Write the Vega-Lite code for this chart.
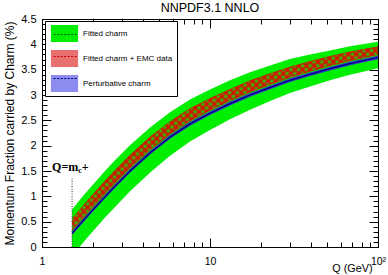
{
"$schema": "https://vega.github.io/schema/vega-lite/v6.json",
"width": 336, "height": 228,
"autosize": "none",
"padding": {"left": 42, "top": 19, "right": 10, "bottom": 28},
"background": "white",
"config": {"view": {"stroke": "black", "strokeWidth": 1}, "font": "Liberation Sans",
  "axis": {"domainColor": "black", "tickColor": "black", "labelColor": "black", "titleColor": "black", "grid": false, "labelFont": "Liberation Sans", "titleFont": "Liberation Sans", "titleFontWeight": "normal"}},
"title": {"text": "NNPDF3.1 NNLO", "fontSize": 12.5, "font": "Liberation Sans", "fontWeight": "normal", "color": "black", "offset": -1, "anchor": "middle"},
"datasets": {
 "bands": [
  {"Q":1.51,"b":0.27,"b_lo":0.235,"b_hi":0.305,"r_lo":0.33,"r_hi":0.55,"g_lo":-0.18,"g_hi":0.74},
  {"Q":1.8,"b":0.56,"b_lo":0.525,"b_hi":0.595,"r_lo":0.62,"r_hi":0.85,"g_lo":0.13,"g_hi":1.05},
  {"Q":2.07,"b":0.78,"b_lo":0.745,"b_hi":0.815,"r_lo":0.84,"r_hi":1.08,"g_lo":0.36,"g_hi":1.28},
  {"Q":2.37,"b":0.99,"b_lo":0.955,"b_hi":1.025,"r_lo":1.05,"r_hi":1.30,"g_lo":0.58,"g_hi":1.50},
  {"Q":2.72,"b":1.20,"b_lo":1.165,"b_hi":1.235,"r_lo":1.26,"r_hi":1.51,"g_lo":0.79,"g_hi":1.71},
  {"Q":3.34,"b":1.50,"b_lo":1.465,"b_hi":1.535,"r_lo":1.56,"r_hi":1.81,"g_lo":1.10,"g_hi":2.01},
  {"Q":4.4,"b":1.86,"b_lo":1.825,"b_hi":1.895,"r_lo":1.92,"r_hi":2.17,"g_lo":1.47,"g_hi":2.36},
  {"Q":5.78,"b":2.17,"b_lo":2.135,"b_hi":2.205,"r_lo":2.23,"r_hi":2.47,"g_lo":1.80,"g_hi":2.66},
  {"Q":7.6,"b":2.43,"b_lo":2.395,"b_hi":2.465,"r_lo":2.49,"r_hi":2.73,"g_lo":2.08,"g_hi":2.91},
  {"Q":10,"b":2.64,"b_lo":2.605,"b_hi":2.675,"r_lo":2.70,"r_hi":2.93,"g_lo":2.31,"g_hi":3.11},
  {"Q":13.15,"b":2.83,"b_lo":2.795,"b_hi":2.865,"r_lo":2.89,"r_hi":3.11,"g_lo":2.52,"g_hi":3.29},
  {"Q":17.3,"b":3.00,"b_lo":2.965,"b_hi":3.035,"r_lo":3.06,"r_hi":3.28,"g_lo":2.71,"g_hi":3.45},
  {"Q":22.8,"b":3.15,"b_lo":3.115,"b_hi":3.185,"r_lo":3.21,"r_hi":3.42,"g_lo":2.88,"g_hi":3.58},
  {"Q":29.9,"b":3.29,"b_lo":3.255,"b_hi":3.325,"r_lo":3.35,"r_hi":3.55,"g_lo":3.04,"g_hi":3.71},
  {"Q":39.4,"b":3.41,"b_lo":3.375,"b_hi":3.445,"r_lo":3.47,"r_hi":3.66,"g_lo":3.17,"g_hi":3.80},
  {"Q":51.8,"b":3.52,"b_lo":3.485,"b_hi":3.555,"r_lo":3.58,"r_hi":3.76,"g_lo":3.29,"g_hi":3.88},
  {"Q":68.1,"b":3.62,"b_lo":3.585,"b_hi":3.655,"r_lo":3.68,"r_hi":3.85,"g_lo":3.40,"g_hi":3.96},
  {"Q":100,"b":3.74,"b_lo":3.705,"b_hi":3.775,"r_lo":3.80,"r_hi":3.95,"g_lo":3.53,"g_hi":4.05}
 ],
 "series": [{"s":"Fitted charm"},{"s":"Fitted charm + EMC data"},{"s":"Perturbative charm"}],
 "threshold": [{"mc":1.51,"base":0,"top":1.38,"label_y":1.5}]
},
"layer": [
 {"data": {"name": "bands"},
  "mark": {"type": "area", "fill": "#00ee00", "clip": true},
  "encoding": {
   "x": {"field": "Q", "type": "quantitative", "scale": {"type": "log", "domain": [1, 100], "nice": false},
     "axis": {"orient": "bottom", "values": [1,2,3,4,5,6,7,8,9,10,20,30,40,50,60,70,80,90,100],
       "labelExpr": "datum.value == 1 ? '1' : datum.value == 10 ? '10' : datum.value == 100 ? '10²' : ''",
       "tickSize": {"condition": {"test": "indexof([1,10,100], datum.value) >= 0", "value": -9}, "value": -5},
       "labelFontSize": 10.5, "labelPadding": 18, "labelFlush": false, "labelOverlap": false,
       "title": "Q (GeV)", "titleFontSize": 10.8, "titleAnchor": "end", "titleAlign": "right", "titleX": 330, "titleY": 24, "titleBaseline": "alphabetic"}},
   "y": {"field": "g_lo", "type": "quantitative", "scale": {"domain": [0, 4.5], "nice": false, "zero": false},
     "axis": {"orient": "left", "values": [0,0.1,0.2,0.3,0.4,0.5,0.6,0.7,0.8,0.9,1,1.1,1.2,1.3,1.4,1.5,1.6,1.7,1.8,1.9,2,2.1,2.2,2.3,2.4,2.5,2.6,2.7,2.8,2.9,3,3.1,3.2,3.3,3.4,3.5,3.6,3.7,3.8,3.9,4,4.1,4.2,4.3,4.4,4.5],
       "format": "~g",
       "labelExpr": "abs(datum.value*2 - round(datum.value*2)) < 0.001 ? datum.label : ''",
       "tickSize": {"condition": {"test": "abs(datum.value*2 - round(datum.value*2)) < 0.001", "value": -9}, "value": -5},
       "labelFontSize": 11, "labelPadding": 15, "labelFlush": false, "labelOverlap": false,
       "title": "Momentum Fraction carried by Charm (%)", "titleFontSize": 12, "titleX": -29, "titleBaseline": "alphabetic"}},
   "y2": {"field": "g_hi"}
  }},
 {"data": {"name": "bands"},
  "mark": {"type": "area", "clip": true, "fill": {"gradient": "linear", "x1": 0, "y1": 1, "x2": 1.18, "y2": 0.292, "stops": [
{"offset":0,"color":"rgba(230,0,0,0.85)"},{"offset":0.0078,"color":"rgba(230,0,0,0)"},{"offset":0.0156,"color":"rgba(230,0,0,0.85)"},{"offset":0.0234,"color":"rgba(230,0,0,0)"},{"offset":0.0313,"color":"rgba(230,0,0,0.85)"},{"offset":0.0391,"color":"rgba(230,0,0,0)"},{"offset":0.0469,"color":"rgba(230,0,0,0.85)"},{"offset":0.0547,"color":"rgba(230,0,0,0)"},{"offset":0.0625,"color":"rgba(230,0,0,0.85)"},{"offset":0.0703,"color":"rgba(230,0,0,0)"},{"offset":0.0781,"color":"rgba(230,0,0,0.85)"},{"offset":0.0859,"color":"rgba(230,0,0,0)"},{"offset":0.0938,"color":"rgba(230,0,0,0.85)"},{"offset":0.1016,"color":"rgba(230,0,0,0)"},{"offset":0.1094,"color":"rgba(230,0,0,0.85)"},{"offset":0.1172,"color":"rgba(230,0,0,0)"},{"offset":0.125,"color":"rgba(230,0,0,0.85)"},{"offset":0.1328,"color":"rgba(230,0,0,0)"},{"offset":0.1406,"color":"rgba(230,0,0,0.85)"},{"offset":0.1484,"color":"rgba(230,0,0,0)"},{"offset":0.1563,"color":"rgba(230,0,0,0.85)"},{"offset":0.1641,"color":"rgba(230,0,0,0)"},{"offset":0.1719,"color":"rgba(230,0,0,0.85)"},{"offset":0.1797,"color":"rgba(230,0,0,0)"},{"offset":0.1875,"color":"rgba(230,0,0,0.85)"},{"offset":0.1953,"color":"rgba(230,0,0,0)"},{"offset":0.2031,"color":"rgba(230,0,0,0.85)"},{"offset":0.2109,"color":"rgba(230,0,0,0)"},{"offset":0.2188,"color":"rgba(230,0,0,0.85)"},{"offset":0.2266,"color":"rgba(230,0,0,0)"},{"offset":0.2344,"color":"rgba(230,0,0,0.85)"},{"offset":0.2422,"color":"rgba(230,0,0,0)"},{"offset":0.25,"color":"rgba(230,0,0,0.85)"},{"offset":0.2578,"color":"rgba(230,0,0,0)"},{"offset":0.2656,"color":"rgba(230,0,0,0.85)"},{"offset":0.2734,"color":"rgba(230,0,0,0)"},{"offset":0.2813,"color":"rgba(230,0,0,0.85)"},{"offset":0.2891,"color":"rgba(230,0,0,0)"},{"offset":0.2969,"color":"rgba(230,0,0,0.85)"},{"offset":0.3047,"color":"rgba(230,0,0,0)"},{"offset":0.3125,"color":"rgba(230,0,0,0.85)"},{"offset":0.3203,"color":"rgba(230,0,0,0)"},{"offset":0.3281,"color":"rgba(230,0,0,0.85)"},{"offset":0.3359,"color":"rgba(230,0,0,0)"},{"offset":0.3438,"color":"rgba(230,0,0,0.85)"},{"offset":0.3516,"color":"rgba(230,0,0,0)"},{"offset":0.3594,"color":"rgba(230,0,0,0.85)"},{"offset":0.3672,"color":"rgba(230,0,0,0)"},{"offset":0.375,"color":"rgba(230,0,0,0.85)"},{"offset":0.3828,"color":"rgba(230,0,0,0)"},{"offset":0.3906,"color":"rgba(230,0,0,0.85)"},{"offset":0.3984,"color":"rgba(230,0,0,0)"},{"offset":0.4063,"color":"rgba(230,0,0,0.85)"},{"offset":0.4141,"color":"rgba(230,0,0,0)"},{"offset":0.4219,"color":"rgba(230,0,0,0.85)"},{"offset":0.4297,"color":"rgba(230,0,0,0)"},{"offset":0.4375,"color":"rgba(230,0,0,0.85)"},{"offset":0.4453,"color":"rgba(230,0,0,0)"},{"offset":0.4531,"color":"rgba(230,0,0,0.85)"},{"offset":0.4609,"color":"rgba(230,0,0,0)"},{"offset":0.4688,"color":"rgba(230,0,0,0.85)"},{"offset":0.4766,"color":"rgba(230,0,0,0)"},{"offset":0.4844,"color":"rgba(230,0,0,0.85)"},{"offset":0.4922,"color":"rgba(230,0,0,0)"},{"offset":0.5,"color":"rgba(230,0,0,0.85)"},{"offset":0.5078,"color":"rgba(230,0,0,0)"},{"offset":0.5156,"color":"rgba(230,0,0,0.85)"},{"offset":0.5234,"color":"rgba(230,0,0,0)"},{"offset":0.5313,"color":"rgba(230,0,0,0.85)"},{"offset":0.5391,"color":"rgba(230,0,0,0)"},{"offset":0.5469,"color":"rgba(230,0,0,0.85)"},{"offset":0.5547,"color":"rgba(230,0,0,0)"},{"offset":0.5625,"color":"rgba(230,0,0,0.85)"},{"offset":0.5703,"color":"rgba(230,0,0,0)"},{"offset":0.5781,"color":"rgba(230,0,0,0.85)"},{"offset":0.5859,"color":"rgba(230,0,0,0)"},{"offset":0.5938,"color":"rgba(230,0,0,0.85)"},{"offset":0.6016,"color":"rgba(230,0,0,0)"},{"offset":0.6094,"color":"rgba(230,0,0,0.85)"},{"offset":0.6172,"color":"rgba(230,0,0,0)"},{"offset":0.625,"color":"rgba(230,0,0,0.85)"},{"offset":0.6328,"color":"rgba(230,0,0,0)"},{"offset":0.6406,"color":"rgba(230,0,0,0.85)"},{"offset":0.6484,"color":"rgba(230,0,0,0)"},{"offset":0.6563,"color":"rgba(230,0,0,0.85)"},{"offset":0.6641,"color":"rgba(230,0,0,0)"},{"offset":0.6719,"color":"rgba(230,0,0,0.85)"},{"offset":0.6797,"color":"rgba(230,0,0,0)"},{"offset":0.6875,"color":"rgba(230,0,0,0.85)"},{"offset":0.6953,"color":"rgba(230,0,0,0)"},{"offset":0.7031,"color":"rgba(230,0,0,0.85)"},{"offset":0.7109,"color":"rgba(230,0,0,0)"},{"offset":0.7188,"color":"rgba(230,0,0,0.85)"},{"offset":0.7266,"color":"rgba(230,0,0,0)"},{"offset":0.7344,"color":"rgba(230,0,0,0.85)"},{"offset":0.7422,"color":"rgba(230,0,0,0)"},{"offset":0.75,"color":"rgba(230,0,0,0.85)"},{"offset":0.7578,"color":"rgba(230,0,0,0)"},{"offset":0.7656,"color":"rgba(230,0,0,0.85)"},{"offset":0.7734,"color":"rgba(230,0,0,0)"},{"offset":0.7813,"color":"rgba(230,0,0,0.85)"},{"offset":0.7891,"color":"rgba(230,0,0,0)"},{"offset":0.7969,"color":"rgba(230,0,0,0.85)"},{"offset":0.8047,"color":"rgba(230,0,0,0)"},{"offset":0.8125,"color":"rgba(230,0,0,0.85)"},{"offset":0.8203,"color":"rgba(230,0,0,0)"},{"offset":0.8281,"color":"rgba(230,0,0,0.85)"},{"offset":0.8359,"color":"rgba(230,0,0,0)"},{"offset":0.8438,"color":"rgba(230,0,0,0.85)"},{"offset":0.8516,"color":"rgba(230,0,0,0)"},{"offset":0.8594,"color":"rgba(230,0,0,0.85)"},{"offset":0.8672,"color":"rgba(230,0,0,0)"},{"offset":0.875,"color":"rgba(230,0,0,0.85)"},{"offset":0.8828,"color":"rgba(230,0,0,0)"},{"offset":0.8906,"color":"rgba(230,0,0,0.85)"},{"offset":0.8984,"color":"rgba(230,0,0,0)"},{"offset":0.9063,"color":"rgba(230,0,0,0.85)"},{"offset":0.9141,"color":"rgba(230,0,0,0)"},{"offset":0.9219,"color":"rgba(230,0,0,0.85)"},{"offset":0.9297,"color":"rgba(230,0,0,0)"},{"offset":0.9375,"color":"rgba(230,0,0,0.85)"},{"offset":0.9453,"color":"rgba(230,0,0,0)"},{"offset":0.9531,"color":"rgba(230,0,0,0.85)"},{"offset":0.9609,"color":"rgba(230,0,0,0)"},{"offset":0.9688,"color":"rgba(230,0,0,0.85)"},{"offset":0.9766,"color":"rgba(230,0,0,0)"},{"offset":0.9844,"color":"rgba(230,0,0,0.85)"},{"offset":0.9922,"color":"rgba(230,0,0,0)"},{"offset":1,"color":"rgba(230,0,0,0.85)"}
  ]}},
  "encoding": {"x": {"field": "Q", "type": "quantitative", "axis": null}, "y": {"field": "r_lo", "type": "quantitative", "axis": null}, "y2": {"field": "r_hi"}}},
 {"data": {"name": "bands"},
  "mark": {"type": "area", "clip": true, "fill": {"gradient": "linear", "x1": 0, "y1": 0, "x2": 1.18, "y2": 0.708, "stops": [
{"offset":0,"color":"rgba(230,0,0,0.85)"},{"offset":0.0078,"color":"rgba(230,0,0,0)"},{"offset":0.0156,"color":"rgba(230,0,0,0.85)"},{"offset":0.0234,"color":"rgba(230,0,0,0)"},{"offset":0.0313,"color":"rgba(230,0,0,0.85)"},{"offset":0.0391,"color":"rgba(230,0,0,0)"},{"offset":0.0469,"color":"rgba(230,0,0,0.85)"},{"offset":0.0547,"color":"rgba(230,0,0,0)"},{"offset":0.0625,"color":"rgba(230,0,0,0.85)"},{"offset":0.0703,"color":"rgba(230,0,0,0)"},{"offset":0.0781,"color":"rgba(230,0,0,0.85)"},{"offset":0.0859,"color":"rgba(230,0,0,0)"},{"offset":0.0938,"color":"rgba(230,0,0,0.85)"},{"offset":0.1016,"color":"rgba(230,0,0,0)"},{"offset":0.1094,"color":"rgba(230,0,0,0.85)"},{"offset":0.1172,"color":"rgba(230,0,0,0)"},{"offset":0.125,"color":"rgba(230,0,0,0.85)"},{"offset":0.1328,"color":"rgba(230,0,0,0)"},{"offset":0.1406,"color":"rgba(230,0,0,0.85)"},{"offset":0.1484,"color":"rgba(230,0,0,0)"},{"offset":0.1563,"color":"rgba(230,0,0,0.85)"},{"offset":0.1641,"color":"rgba(230,0,0,0)"},{"offset":0.1719,"color":"rgba(230,0,0,0.85)"},{"offset":0.1797,"color":"rgba(230,0,0,0)"},{"offset":0.1875,"color":"rgba(230,0,0,0.85)"},{"offset":0.1953,"color":"rgba(230,0,0,0)"},{"offset":0.2031,"color":"rgba(230,0,0,0.85)"},{"offset":0.2109,"color":"rgba(230,0,0,0)"},{"offset":0.2188,"color":"rgba(230,0,0,0.85)"},{"offset":0.2266,"color":"rgba(230,0,0,0)"},{"offset":0.2344,"color":"rgba(230,0,0,0.85)"},{"offset":0.2422,"color":"rgba(230,0,0,0)"},{"offset":0.25,"color":"rgba(230,0,0,0.85)"},{"offset":0.2578,"color":"rgba(230,0,0,0)"},{"offset":0.2656,"color":"rgba(230,0,0,0.85)"},{"offset":0.2734,"color":"rgba(230,0,0,0)"},{"offset":0.2813,"color":"rgba(230,0,0,0.85)"},{"offset":0.2891,"color":"rgba(230,0,0,0)"},{"offset":0.2969,"color":"rgba(230,0,0,0.85)"},{"offset":0.3047,"color":"rgba(230,0,0,0)"},{"offset":0.3125,"color":"rgba(230,0,0,0.85)"},{"offset":0.3203,"color":"rgba(230,0,0,0)"},{"offset":0.3281,"color":"rgba(230,0,0,0.85)"},{"offset":0.3359,"color":"rgba(230,0,0,0)"},{"offset":0.3438,"color":"rgba(230,0,0,0.85)"},{"offset":0.3516,"color":"rgba(230,0,0,0)"},{"offset":0.3594,"color":"rgba(230,0,0,0.85)"},{"offset":0.3672,"color":"rgba(230,0,0,0)"},{"offset":0.375,"color":"rgba(230,0,0,0.85)"},{"offset":0.3828,"color":"rgba(230,0,0,0)"},{"offset":0.3906,"color":"rgba(230,0,0,0.85)"},{"offset":0.3984,"color":"rgba(230,0,0,0)"},{"offset":0.4063,"color":"rgba(230,0,0,0.85)"},{"offset":0.4141,"color":"rgba(230,0,0,0)"},{"offset":0.4219,"color":"rgba(230,0,0,0.85)"},{"offset":0.4297,"color":"rgba(230,0,0,0)"},{"offset":0.4375,"color":"rgba(230,0,0,0.85)"},{"offset":0.4453,"color":"rgba(230,0,0,0)"},{"offset":0.4531,"color":"rgba(230,0,0,0.85)"},{"offset":0.4609,"color":"rgba(230,0,0,0)"},{"offset":0.4688,"color":"rgba(230,0,0,0.85)"},{"offset":0.4766,"color":"rgba(230,0,0,0)"},{"offset":0.4844,"color":"rgba(230,0,0,0.85)"},{"offset":0.4922,"color":"rgba(230,0,0,0)"},{"offset":0.5,"color":"rgba(230,0,0,0.85)"},{"offset":0.5078,"color":"rgba(230,0,0,0)"},{"offset":0.5156,"color":"rgba(230,0,0,0.85)"},{"offset":0.5234,"color":"rgba(230,0,0,0)"},{"offset":0.5313,"color":"rgba(230,0,0,0.85)"},{"offset":0.5391,"color":"rgba(230,0,0,0)"},{"offset":0.5469,"color":"rgba(230,0,0,0.85)"},{"offset":0.5547,"color":"rgba(230,0,0,0)"},{"offset":0.5625,"color":"rgba(230,0,0,0.85)"},{"offset":0.5703,"color":"rgba(230,0,0,0)"},{"offset":0.5781,"color":"rgba(230,0,0,0.85)"},{"offset":0.5859,"color":"rgba(230,0,0,0)"},{"offset":0.5938,"color":"rgba(230,0,0,0.85)"},{"offset":0.6016,"color":"rgba(230,0,0,0)"},{"offset":0.6094,"color":"rgba(230,0,0,0.85)"},{"offset":0.6172,"color":"rgba(230,0,0,0)"},{"offset":0.625,"color":"rgba(230,0,0,0.85)"},{"offset":0.6328,"color":"rgba(230,0,0,0)"},{"offset":0.6406,"color":"rgba(230,0,0,0.85)"},{"offset":0.6484,"color":"rgba(230,0,0,0)"},{"offset":0.6563,"color":"rgba(230,0,0,0.85)"},{"offset":0.6641,"color":"rgba(230,0,0,0)"},{"offset":0.6719,"color":"rgba(230,0,0,0.85)"},{"offset":0.6797,"color":"rgba(230,0,0,0)"},{"offset":0.6875,"color":"rgba(230,0,0,0.85)"},{"offset":0.6953,"color":"rgba(230,0,0,0)"},{"offset":0.7031,"color":"rgba(230,0,0,0.85)"},{"offset":0.7109,"color":"rgba(230,0,0,0)"},{"offset":0.7188,"color":"rgba(230,0,0,0.85)"},{"offset":0.7266,"color":"rgba(230,0,0,0)"},{"offset":0.7344,"color":"rgba(230,0,0,0.85)"},{"offset":0.7422,"color":"rgba(230,0,0,0)"},{"offset":0.75,"color":"rgba(230,0,0,0.85)"},{"offset":0.7578,"color":"rgba(230,0,0,0)"},{"offset":0.7656,"color":"rgba(230,0,0,0.85)"},{"offset":0.7734,"color":"rgba(230,0,0,0)"},{"offset":0.7813,"color":"rgba(230,0,0,0.85)"},{"offset":0.7891,"color":"rgba(230,0,0,0)"},{"offset":0.7969,"color":"rgba(230,0,0,0.85)"},{"offset":0.8047,"color":"rgba(230,0,0,0)"},{"offset":0.8125,"color":"rgba(230,0,0,0.85)"},{"offset":0.8203,"color":"rgba(230,0,0,0)"},{"offset":0.8281,"color":"rgba(230,0,0,0.85)"},{"offset":0.8359,"color":"rgba(230,0,0,0)"},{"offset":0.8438,"color":"rgba(230,0,0,0.85)"},{"offset":0.8516,"color":"rgba(230,0,0,0)"},{"offset":0.8594,"color":"rgba(230,0,0,0.85)"},{"offset":0.8672,"color":"rgba(230,0,0,0)"},{"offset":0.875,"color":"rgba(230,0,0,0.85)"},{"offset":0.8828,"color":"rgba(230,0,0,0)"},{"offset":0.8906,"color":"rgba(230,0,0,0.85)"},{"offset":0.8984,"color":"rgba(230,0,0,0)"},{"offset":0.9063,"color":"rgba(230,0,0,0.85)"},{"offset":0.9141,"color":"rgba(230,0,0,0)"},{"offset":0.9219,"color":"rgba(230,0,0,0.85)"},{"offset":0.9297,"color":"rgba(230,0,0,0)"},{"offset":0.9375,"color":"rgba(230,0,0,0.85)"},{"offset":0.9453,"color":"rgba(230,0,0,0)"},{"offset":0.9531,"color":"rgba(230,0,0,0.85)"},{"offset":0.9609,"color":"rgba(230,0,0,0)"},{"offset":0.9688,"color":"rgba(230,0,0,0.85)"},{"offset":0.9766,"color":"rgba(230,0,0,0)"},{"offset":0.9844,"color":"rgba(230,0,0,0.85)"},{"offset":0.9922,"color":"rgba(230,0,0,0)"},{"offset":1,"color":"rgba(230,0,0,0.85)"}
  ]}},
  "encoding": {"x": {"field": "Q", "type": "quantitative", "axis": null}, "y": {"field": "r_lo", "type": "quantitative", "axis": null}, "y2": {"field": "r_hi"}}},
 {"data": {"name": "bands"},
  "mark": {"type": "line", "color": "#dd0000", "strokeWidth": 0.7, "clip": true},
  "encoding": {"x": {"field": "Q", "type": "quantitative", "axis": null}, "y": {"field": "r_hi", "type": "quantitative", "axis": null}}},
 {"data": {"name": "bands"},
  "mark": {"type": "line", "color": "#dd0000", "strokeWidth": 0.7, "clip": true},
  "encoding": {"x": {"field": "Q", "type": "quantitative", "axis": null}, "y": {"field": "r_lo", "type": "quantitative", "axis": null}}},
 {"data": {"name": "bands"},
  "mark": {"type": "area", "fill": "#3030c8", "clip": true},
  "encoding": {"x": {"field": "Q", "type": "quantitative", "axis": null}, "y": {"field": "b_lo", "type": "quantitative", "axis": null}, "y2": {"field": "b_hi"}}},
 {"data": {"name": "bands"},
  "mark": {"type": "line", "color": "#000080", "strokeWidth": 1.2, "clip": true},
  "encoding": {
   "x": {"field": "Q", "type": "quantitative",
     "axis": {"orient": "top", "values": [1,2,3,4,5,6,7,8,9,10,20,30,40,50,60,70,80,90,100], "labels": false, "title": null,
       "tickSize": {"condition": {"test": "indexof([1,10,100], datum.value) >= 0", "value": -9}, "value": -5}}},
   "y": {"field": "b", "type": "quantitative",
     "axis": {"orient": "right", "values": [0,0.1,0.2,0.3,0.4,0.5,0.6,0.7,0.8,0.9,1,1.1,1.2,1.3,1.4,1.5,1.6,1.7,1.8,1.9,2,2.1,2.2,2.3,2.4,2.5,2.6,2.7,2.8,2.9,3,3.1,3.2,3.3,3.4,3.5,3.6,3.7,3.8,3.9,4,4.1,4.2,4.3,4.4,4.5], "labels": false, "title": null,
       "tickSize": {"condition": {"test": "abs(datum.value*2 - round(datum.value*2)) < 0.001", "value": -9}, "value": -5}}}
  }},
 {"data": {"name": "threshold"},
  "mark": {"type": "rule", "strokeDash": [1, 1.5], "color": "#333333", "strokeWidth": 1},
  "encoding": {"x": {"field": "mc", "type": "quantitative", "axis": null}, "y": {"field": "base", "type": "quantitative", "axis": null}, "y2": {"field": "top"}}},
 {"data": {"name": "threshold"},
  "mark": {"type": "text", "text": "Q=m", "font": "Liberation Serif", "fontWeight": "bold", "fontSize": 12, "align": "left", "baseline": "alphabetic", "dx": -20},
  "encoding": {"x": {"field": "mc", "type": "quantitative", "axis": null}, "y": {"field": "label_y", "type": "quantitative", "axis": null}}},
 {"data": {"name": "threshold"},
  "mark": {"type": "text", "text": "c", "font": "Liberation Serif", "fontWeight": "bold", "fontSize": 8, "align": "left", "baseline": "alphabetic", "dx": 6.2, "dy": 2},
  "encoding": {"x": {"field": "mc", "type": "quantitative", "axis": null}, "y": {"field": "label_y", "type": "quantitative", "axis": null}}},
 {"data": {"name": "threshold"},
  "mark": {"type": "text", "text": "+", "font": "Liberation Serif", "fontWeight": "bold", "fontSize": 12, "align": "left", "baseline": "alphabetic", "dx": 9.8},
  "encoding": {"x": {"field": "mc", "type": "quantitative", "axis": null}, "y": {"field": "label_y", "type": "quantitative", "axis": null}}},
 {"data": {"name": "series"},
  "transform": [{"filter": "false"}],
  "mark": {"type": "point", "filled": true},
  "encoding": {"color": {"field": "s", "type": "nominal",
    "scale": {"domain": ["Fitted charm", "Fitted charm + EMC data", "Perturbative charm"], "range": ["#00ee00", "#e87070", "#8c8cee"]},
    "legend": {"orient": "none", "legendX": 3, "legendY": 2, "direction": "vertical", "title": null,
      "symbolType": "M-1.6,-1H1.6V1H-1.6Z", "symbolSize": 289, "symbolStrokeWidth": 0, "symbolOpacity": 1,
      "labelFontSize": 8, "labelFont": "Liberation Sans", "labelColor": "black", "labelOffset": 10, "symbolOffset": 7,
      "rowPadding": 8, "padding": 4, "strokeColor": "black", "fillColor": "white", "labelLimit": 300,
      "labelExpr": "datum.label + '\u00a0\u00a0\u00a0\u00a0\u00a0\u00a0\u00a0\u00a0\u00a0\u00a0\u00a0\u00a0\u00a0\u00a0\u00a0\u00a0\u00a0\u00a0\u00a0'"}}}},
 {"data": {"name": "series"},
  "transform": [{"filter": "false"}],
  "mark": {"type": "point", "filled": false},
  "encoding": {"stroke": {"field": "s", "type": "nominal",
    "scale": {"domain": ["Fitted charm", "Fitted charm + EMC data", "Perturbative charm"], "range": ["#005500", "#cc0000", "#000080"]},
    "legend": {"orient": "none", "legendX": 3, "legendY": 2, "direction": "vertical", "title": null,
      "symbolType": "M-1.4,0H1.4", "symbolSize": 289, "symbolStrokeWidth": 1.2, "symbolDash": [2, 1.5], "symbolFillColor": "transparent", "symbolOpacity": 1,
      "labelFontSize": 8, "labelFont": "Liberation Sans", "labelOffset": 10, "symbolOffset": 7,
      "rowPadding": 8, "padding": 4, "strokeColor": "transparent", "fillColor": "transparent",
      "labelExpr": "''"}}}}
],
"resolve": {"axis": {"x": "independent", "y": "independent"}, "legend": {"color": "independent", "stroke": "independent"}}
}
